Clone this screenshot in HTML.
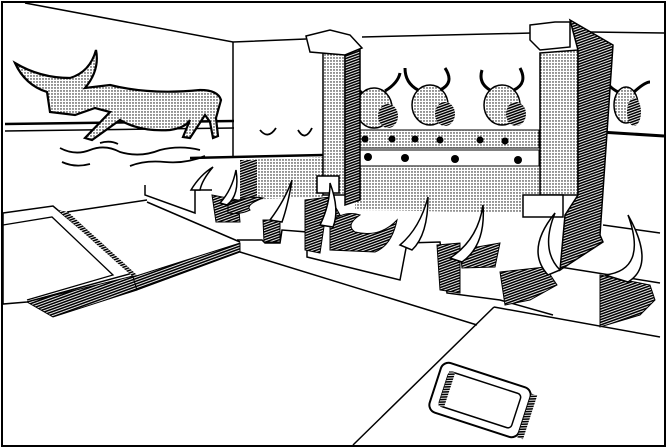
<!DOCTYPE html>
<html><head><meta charset="utf-8"><style>
html,body{margin:0;padding:0;background:#fff;}
svg{display:block;}
</style></head><body>
<svg width="667" height="448" viewBox="0 0 667 448" xmlns="http://www.w3.org/2000/svg">
<defs>
<pattern id="dots" width="3" height="3" patternUnits="userSpaceOnUse">
<rect width="3" height="3" fill="#fff"/>
<circle cx="1" cy="1" r="0.7" fill="#000"/>
</pattern>
<pattern id="hatch" width="2.5" height="2.5" patternUnits="userSpaceOnUse" patternTransform="rotate(70)">
<rect width="2.5" height="2.5" fill="#fff"/><rect width="1.6" height="2.5" fill="#000"/>
</pattern>
</defs>
<g fill="none" stroke="#000" stroke-width="1.5">
<rect x="2" y="2" width="663" height="444" stroke-width="2"/>
<path d="M25 3 L233 42 L306 39"/>
<path d="M233 42 L233 157"/>
<path d="M362 37 L532 33"/>
<path d="M590 32 L664 33"/>
<path d="M5 124 L234 121" stroke-width="2.5"/>
<path d="M5 131 L234 128"/>
<path d="M600 132 L664 136" stroke-width="3"/>
<path d="M190 158 L323 155" stroke-width="2.5"/>
</g>
<polygon points="240,160 323,157 323,197 240,200" fill="url(#dots)"/>
<rect x="240" y="160" width="17" height="40" fill="url(#hatch)"/>
<polygon points="355,165 540,168 540,213 355,210" fill="url(#dots)"/>
<path d="M15 63 Q25 85 47 92 L50 112 L75 115 L95 108 L110 112 L85 138 L92 140 L120 120 Q140 132 170 130 Q185 128 190 120 L183 137 L190 138 L205 115 L210 122 L213 138 L218 136 L216 118 L221 100 Q218 90 200 90 Q150 95 110 85 L85 88 Q100 70 96 50 Q90 72 70 78 Q40 78 15 63 Z" fill="url(#dots)" stroke="#000" stroke-width="2.2"/>
<g fill="none" stroke="#000" stroke-width="1.8">
<path d="M60 148 Q75 156 90 150 Q105 144 120 152 Q140 158 160 150 Q180 145 200 150"/>
<path d="M62 162 Q75 168 90 164 M130 166 Q145 160 165 162 Q185 164 205 156"/>
<path d="M100 143 Q110 140 118 144"/>
<path d="M260 130 Q268 140 276 128 M298 130 Q305 142 312 128"/>
</g>
<g stroke="#000" stroke-width="1.5">
<g fill="url(#dots)">
<ellipse cx="374" cy="108" rx="18" ry="20"/>
<ellipse cx="430" cy="105" rx="18" ry="20"/>
<ellipse cx="502" cy="105" rx="18" ry="20"/>
<ellipse cx="626" cy="105" rx="12" ry="18"/>
</g>
<g fill="url(#hatch)" stroke="none">
<ellipse cx="388" cy="116" rx="10" ry="12"/><ellipse cx="445" cy="114" rx="10" ry="12"/><ellipse cx="516" cy="114" rx="10" ry="12"/><ellipse cx="634" cy="112" rx="7" ry="14"/>
</g>
<path d="M362 93 Q350 83 352 70 M385 91 Q398 83 400 73 M418 90 Q405 83 405 68 M440 90 Q455 83 445 68 M490 90 Q478 83 482 70 M514 90 Q528 83 520 68 M618 92 Q605 85 608 78 M634 92 Q645 82 650 82" fill="none" stroke-width="3"/>
</g>
<rect x="355" y="130" width="184" height="18" fill="url(#dots)" stroke="#000"/>
<rect x="355" y="150" width="184" height="16" fill="#fff" stroke="#000"/>
<g fill="#000"><circle cx="365" cy="139" r="3.5"/><circle cx="392" cy="139" r="3.5"/><circle cx="415" cy="139" r="3.5"/><circle cx="440" cy="140" r="3.5"/><circle cx="480" cy="140" r="3.5"/><circle cx="505" cy="141" r="3.5"/><circle cx="368" cy="157" r="4"/><circle cx="405" cy="158" r="4"/><circle cx="455" cy="159" r="4"/><circle cx="518" cy="160" r="4"/></g>
<g stroke="#000" stroke-width="1.5">
<polygon points="323,52 345,52 345,195 323,195" fill="url(#dots)"/>
<polygon points="345,45 360,50 360,200 345,205" fill="url(#hatch)"/>
<polygon points="306,36 330,30 350,35 362,48 345,55 310,52" fill="#fff"/>
<rect x="317" y="176" width="22" height="17" fill="#fff"/>
<polygon points="540,53 578,50 578,195 540,195" fill="url(#dots)"/>
<polygon points="570,20 613,45 600,235 603,242 560,270 565,215 578,195 578,50" fill="url(#hatch)"/>
<polygon points="530,25 555,22 570,22 570,47 540,50 530,40" fill="#fff"/>
<rect x="523" y="195" width="40" height="22" fill="#fff"/>
</g>
<g fill="none" stroke="#000" stroke-width="1.5">
<path d="M67 212 L147 200"/>
<path d="M145 185 L145 195 L195 213 L195 190 L212 190"/>
<path d="M147 202 L240 242"/>
<path d="M240 252 L477 325"/>
<path d="M494 307 L660 337"/>
<path d="M494 307 L353 445"/>
<path d="M237 240 L262 240 L265 243 L280 243 L282 230 L307 232 L307 257 L400 280 L407 243 L440 242 L447 293 L500 300 L553 315"/>
<path d="M603 225 L660 233"/>
<path d="M560 267 L660 283"/>
</g>
<polygon points="3,213 53,206 133,273 27,302 3,304" fill="#fff" stroke="#000" stroke-width="1.5"/>
<path d="M3 225 L52 217 L113 275 L27 300" fill="none" stroke="#000" stroke-width="1.3"/>
<polygon points="58,210 68,212 137,275 133,277" fill="url(#hatch)"/>
<polygon points="27,302 133,276 137,290 53,317" fill="url(#hatch)" stroke="#000"/>
<polygon points="133,277 240,243 240,252 137,290" fill="url(#hatch)" stroke="#000"/>
<g fill="url(#hatch)" stroke="#000" stroke-width="1">
<polygon points="212,195 238,200 240,222 216,222"/>
<path d="M228 205 Q245 195 263 198 Q245 205 250 210 Q240 215 228 213 Z"/>
<polygon points="263,220 280,220 280,242 264,242"/>
<polygon points="305,200 330,197 340,215 325,220 320,253 305,250"/>
<path d="M330 222 Q345 210 360 215 Q345 225 355 232 Q380 238 397 220 Q392 245 375 252 L330 250 Z"/>
<polygon points="437,245 460,243 460,293 440,290"/>
<polygon points="460,250 500,243 495,267 462,268"/>
<polygon points="500,272 545,267 557,285 530,300 505,305"/>
<polygon points="600,275 650,285 655,300 640,315 600,327"/>
</g>
<g fill="#fff" stroke="#000" stroke-width="1.5">
<path d="M191 190 Q200 175 213 167 Q202 180 200 190 Z"/>
<path d="M220 203 Q232 190 236 170 Q240 195 227 205 Z"/>
<path d="M270 220 Q285 200 292 180 Q288 205 282 222 Z"/>
<path d="M320 225 Q330 205 330 183 Q340 210 333 227 Z"/>
<path d="M400 245 Q420 228 428 197 Q428 235 412 250 Z"/>
<path d="M450 258 Q478 240 483 205 Q486 245 462 262 Z"/>
<path d="M548 275 Q525 250 555 213 Q540 250 560 270 Z"/>
<path d="M605 275 Q648 270 628 215 Q656 265 628 282 Z"/>
</g>
<g transform="rotate(18 480 400)">
<rect x="433" y="374" width="94" height="52" rx="8" fill="#fff" stroke="#000" stroke-width="2"/>
<rect x="442" y="382" width="76" height="36" rx="4" fill="#fff" stroke="#000" stroke-width="1.5"/>
<rect x="442" y="382" width="6" height="36" fill="url(#hatch)"/>
<rect x="527" y="378" width="6" height="46" fill="url(#hatch)"/>
</g>
</svg>
</body></html>
